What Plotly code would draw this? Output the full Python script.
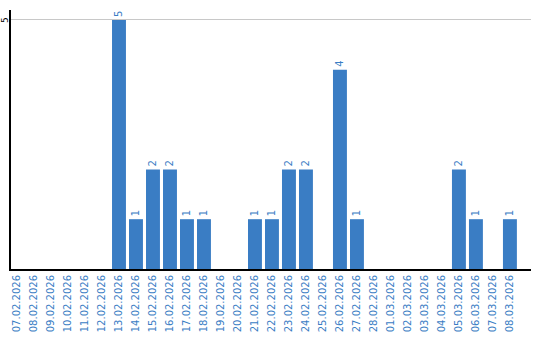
import plotly.graph_objects as go

dates = ["07.02.2026", "08.02.2026", "09.02.2026", "10.02.2026", "11.02.2026", "12.02.2026",
         "13.02.2026", "14.02.2026", "15.02.2026", "16.02.2026", "17.02.2026", "18.02.2026",
         "19.02.2026", "20.02.2026", "21.02.2026", "22.02.2026", "23.02.2026", "24.02.2026",
         "25.02.2026", "26.02.2026", "27.02.2026", "28.02.2026", "01.03.2026", "02.03.2026",
         "03.03.2026", "04.03.2026", "05.03.2026", "06.03.2026", "07.03.2026", "08.03.2026"]
counts = [0, 0, 0, 0, 0, 0,
          5, 1, 2, 2, 1, 1,
          0, 0, 1, 1, 2, 2,
          0, 4, 1, 0, 0, 0,
          0, 0, 2, 1, 0, 1]
labels = [str(v) if v else "" for v in counts]
ytick = 5

blue = "#3a7dc4"
fig = go.Figure(go.Bar(
    x=list(range(len(dates))), y=counts, text=labels,
    textposition="outside", textangle=-90, cliponaxis=False,
    textfont=dict(color=blue, size=10, family="DejaVu Sans"),
    marker=dict(color=blue, line=dict(width=0)), width=0.82,
))
fig.update_layout(
    width=540, height=340, margin=dict(l=11, r=9, t=10, b=71),
    plot_bgcolor="white", paper_bgcolor="white", showlegend=False,
)
fig.update_xaxes(
    tickmode="array", tickvals=list(range(len(dates))), ticktext=dates,
    tickangle=-90, tickfont=dict(color=blue, size=10, family="DejaVu Sans"),
    range=[-0.353, 30.24], showline=True, linecolor="black", linewidth=2,
    showgrid=False, ticks="", zeroline=False, automargin=False,
)
fig.update_yaxes(
    range=[0, 5.2], tickvals=[ytick], showticklabels=False,
    showline=True, linecolor="black", linewidth=2, showgrid=True,
    gridcolor="#c8c8c8", gridwidth=1, zeroline=False, ticks="",
    automargin=False,
)
fig.add_annotation(
    xref="paper", yref="y", x=0, y=ytick, text=str(ytick), textangle=-90,
    showarrow=False, xanchor="center", yanchor="middle", xshift=-6,
    borderpad=0, font=dict(color="black", size=9, family="DejaVu Sans"),
)
fig.write_html("out.html")
